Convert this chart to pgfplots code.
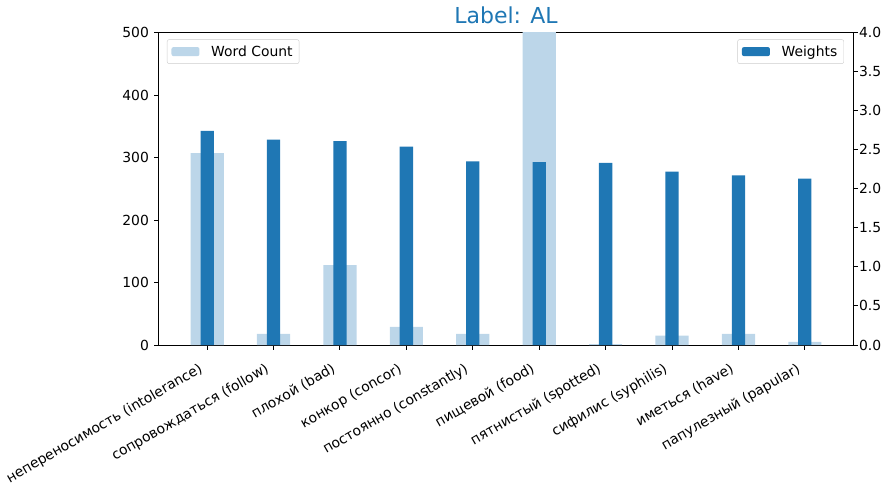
\documentclass[border=0pt]{standalone}
\usepackage{fontspec}
\setmainfont{DejaVu Sans}
\usepackage{pgfplots}
\pgfplotsset{compat=1.18}
\definecolor{tabblue}{HTML}{1F77B4}
\definecolor{lightblue}{HTML}{BCD6E9}
\begin{document}
\begin{tikzpicture}
\useasboundingbox (-159pt,-137pt) rectangle (731pt,345pt);
\pgfplotsset{
  every axis/.append style={
    scale only axis, width=694pt, height=312.5pt,
    at={(0pt,0pt)}, anchor=south west,
    xmin=-0.725, xmax=9.725,
    font=\fontsize{13.9}{16}\selectfont,
    axis line style={line width=1pt},
    tick style={line width=1pt, black},
    major tick length=4.9pt, tick align=outside,
    /pgf/number format/assume math mode=true,
    legend style={draw=black!20, rounded corners=2pt, inner xsep=0pt, inner ysep=3pt,
      font=\fontsize{13.9}{16}\selectfont,
      nodes={inner xsep=0pt, inner ysep=3pt}},
  },
}
\begin{axis}[
  ymin=0, ymax=500, ytick={0,100,200,300,400,500},
  xtick={0,1,2,3,4,5,6,7,8,9},
  xticklabels={непереносимость (intolerance), сопровождаться (follow), плохой (bad), конкор (concor), постоянно (constantly), пищевой (food), пятнистый (spotted), сифилис (syphilis), иметься (have), папулезный (papular)},
  xticklabel style={rotate=30, anchor=north east, inner sep=0pt, xshift=-14pt, yshift=-6pt},
  yticklabel style={inner sep=0pt, xshift=-5pt},
  xtick pos=bottom, ytick pos=left,
  title={Label: AL},
  title style={at={(0.5,1)}, anchor=base, yshift=3pt, font=\fontsize{22}{26}\selectfont, text=tabblue},
  legend style={at={(0.0115,0.978)}, anchor=north west},
  ybar, bar width=0.5, bar shift=0pt,
]
\addlegendimage{legend image code/.code={\path[draw=none, fill=none] (-4.3pt,0pt) rectangle (39.7pt,0.1pt); \fill[lightblue, draw=none] (0pt,-4.5pt) rectangle (28pt,4.5pt);}}
\addlegendentry{Word Count\hspace*{6.5pt}}
\addplot[fill=lightblue, draw=none, forget plot] coordinates {
  (0,307) (1,18) (2,128) (3,29) (4,18) (5,600) (6,1.5) (7,15) (8,18) (9,5)};
\end{axis}
\begin{axis}[
  ymin=0, ymax=4, ytick={0,0.5,1,1.5,2,2.5,3,3.5,4},
  axis y line*=right, axis x line=none,
  yticklabel style={inner sep=0pt, xshift=1pt, /pgf/number format/.cd, fixed, fixed zerofill, precision=1},
  legend style={at={(0.987,0.978)}, anchor=north east},
  ybar, bar width=0.2, bar shift=0pt,
]
\addlegendimage{legend image code/.code={\path[draw=none, fill=none] (-4.3pt,0pt) rectangle (39.7pt,0.1pt); \fill[tabblue, draw=none] (0pt,-4.5pt) rectangle (28pt,4.5pt);}}
\addlegendentry{Weights\hspace*{6.5pt}}
\addplot[fill=tabblue, draw=none, forget plot] coordinates {
  (0,2.74) (1,2.63) (2,2.61) (3,2.54) (4,2.35) (5,2.34) (6,2.33) (7,2.22) (8,2.17) (9,2.13)};
\end{axis}
\end{tikzpicture}
\end{document}
